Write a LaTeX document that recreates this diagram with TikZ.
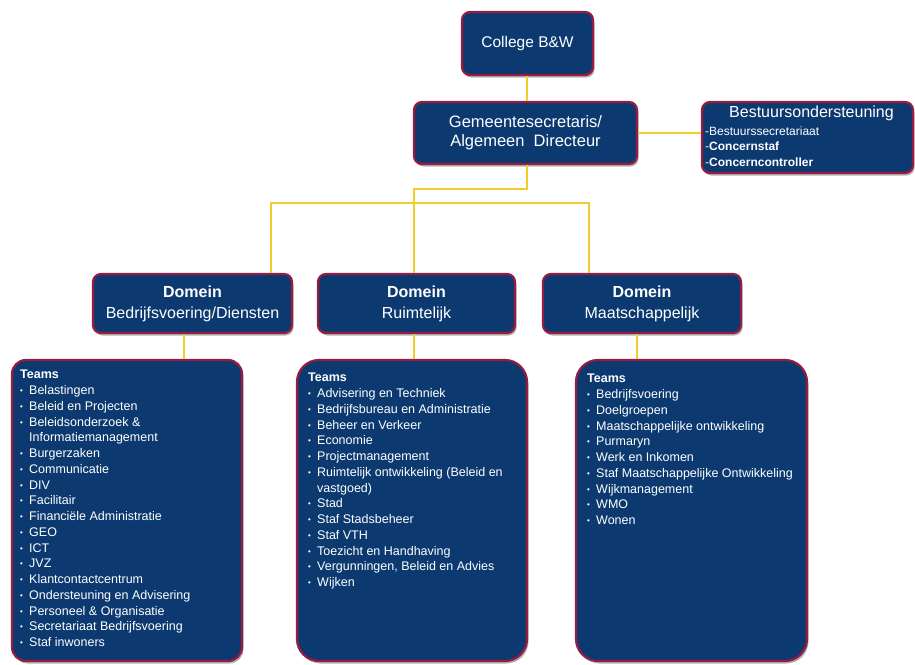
\documentclass[tikz,border=0pt]{standalone}
\usepackage{fontspec}
\setmainfont{Liberation Sans}
\usetikzlibrary{shadows}
\definecolor{boxblue}{RGB}{12,58,112}
\definecolor{boxred}{RGB}{150,28,66}
\definecolor{linkyel}{RGB}{242,204,40}
\newcommand{\bul}{\makebox[9pt][l]{\fontsize{8}{8}\selectfont\raisebox{1pt}{•}}}
\newcommand{\ind}{\hspace*{9pt}}
\begin{document}
\begin{tikzpicture}[x=1pt,y=-1pt,
  orgbox/.style={draw=boxred, line width=2.2pt, fill=boxblue, rounded corners=8pt,
    text=white, align=center, inner sep=0pt,
    drop shadow={shadow xshift=1.5pt, shadow yshift=-2.5pt, opacity=0.3, fill=black}},
  teambox/.style={orgbox, rounded corners=22pt},
  link/.style={draw=linkyel, line width=1.3pt},
  listtext/.style={text=white, anchor=north west, align=left, inner sep=0pt,
    font=\fontsize{12.5}{15.75}\selectfont},
  bigtext/.style={font=\fontsize{16}{21}\selectfont}
]
\fill[white] (0,0) rectangle (915,664);
\useasboundingbox (0,0) rectangle (915,664);

% top boxes
\node[orgbox, minimum width=131pt, minimum height=63pt, font=\fontsize{15.5}{19}\selectfont] (college) at (527.5,43.5) {College B\&W};
\node[orgbox, minimum width=223pt, minimum height=62pt, font=\fontsize{16.5}{19}\selectfont] (gem) at (525.5,133) {Gemeentesecretaris/\\Algemeen\ \ Directeur};
\node[orgbox, minimum width=211pt, minimum height=71pt] (best) at (807.5,137.5) {};
\node[text=white, font=\fontsize{16}{19}\selectfont, inner sep=0pt] (besttitle) at (811.5,113) {Bestuursondersteuning};
\node[listtext, font=\fontsize{12}{15.5}\selectfont] (bestlist) at (705,126.5) {-Bestuurssecretariaat\\-\textbf{Concernstaf}\\-\textbf{Concerncontroller}};

% domain boxes
\node[orgbox, bigtext, minimum width=199pt, minimum height=59pt] (dom1) at (192.5,303.5) {\textbf{Domein}\\Bedrijfsvoering/Diensten};
\node[orgbox, bigtext, minimum width=197pt, minimum height=59pt] (dom2) at (416.5,303.5) {\textbf{Domein}\\Ruimtelijk};
\node[orgbox, bigtext, minimum width=198pt, minimum height=59pt] (dom3) at (642,303.5) {\textbf{Domein}\\Maatschappelijk};

% team boxes
\node[teambox, rounded corners=14pt, minimum width=230pt, minimum height=301pt] (team1) at (127,510.5) {};
\node[teambox, minimum width=230pt, minimum height=301pt] (team2) at (412,510.5) {};
\node[teambox, minimum width=231pt, minimum height=301pt] (team3) at (691.5,510.5) {};

\node[listtext] (list1) at (20,370) {\textbf{Teams}\\
\bul Belastingen\\
\bul Beleid en Projecten\\
\bul Beleidsonderzoek \&\\
\ind Informatiemanagement\\
\bul Burgerzaken\\
\bul Communicatie\\
\bul DIV\\
\bul Facilitair\\
\bul Financiële Administratie\\
\bul GEO\\
\bul ICT\\
\bul JVZ\\
\bul Klantcontactcentrum\\
\bul Ondersteuning en Advisering\\
\bul Personeel \& Organisatie\\
\bul Secretariaat Bedrijfsvoering\\
\bul Staf inwoners};

\node[listtext] (list2) at (308,373) {\textbf{Teams}\\
\bul Advisering en Techniek\\
\bul Bedrijfsbureau en Administratie\\
\bul Beheer en Verkeer\\
\bul Economie\\
\bul Projectmanagement\\
\bul Ruimtelijk ontwikkeling (Beleid en\\
\ind vastgoed)\\
\bul Stad\\
\bul Staf Stadsbeheer\\
\bul Staf VTH\\
\bul Toezicht en Handhaving\\
\bul Vergunningen, Beleid en Advies\\
\bul Wijken};

\node[listtext] (list3) at (587,374) {\textbf{Teams}\\
\bul Bedrijfsvoering\\
\bul Doelgroepen\\
\bul Maatschappelijke ontwikkeling\\
\bul Purmaryn\\
\bul Werk en Inkomen\\
\bul Staf Maatschappelijke Ontwikkeling\\
\bul Wijkmanagement\\
\bul WMO\\
\bul Wonen};

% connectors
\coordinate (j1) at (527,189);
\coordinate (j2) at (271,203);
\coordinate (j3) at (589,203);
\draw[link] (college.south -| j1) -- (gem.north -| j1);
\draw[link] (gem.south -| j1) -- (j1) -| (dom2.north -| 414,0);
\draw[link] (dom1.north -| j2) -- (j2) -- (j3) -- (dom3.north -| j3);
\draw[link] (gem.east) -- (best.west |- gem.east);
\draw[link] (dom1.south -| 184,0) -- (team1.north -| 184,0);
\draw[link] (dom2.south -| 414,0) -- (team2.north -| 414,0);
\draw[link] (dom3.south -| 637,0) -- (team3.north -| 637,0);
\end{tikzpicture}
\end{document}
